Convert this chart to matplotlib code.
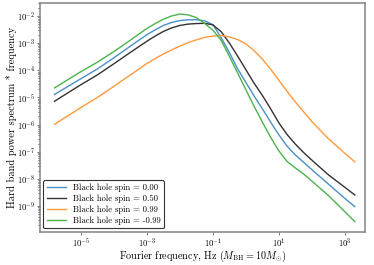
import numpy as np
import matplotlib
matplotlib.use("Agg")
import matplotlib.pyplot as plt

plt.rcParams["font.family"] = "serif"
plt.rcParams["font.serif"] = ["cmr10"]
plt.rcParams["mathtext.fontset"] = "cm"
plt.rcParams["axes.formatter.use_mathtext"] = True
plt.rcParams["axes.unicode_minus"] = False

# log10 of Fourier frequency (Hz) where curves were read
log_freq = [-5.8, -5.0, -4.5, -4.0, -3.5,
            -3.0, -2.75, -2.5, -2.25, -2.0, -1.75, -1.5, -1.25, -1.0, -0.75, -0.5, -0.25,
            0.0, 0.25, 0.5, 0.75, 1.0, 1.25, 1.5, 1.75, 2.0,
            2.5, 3.0, 3.3]

# log10 of power * frequency for each spin
log_pow_spin_000 = [-4.89, -4.31, -3.95, -3.54, -3.11,
                    -2.69, -2.51, -2.35, -2.24, -2.17, -2.14, -2.14, -2.18, -2.32, -2.80, -3.35, -3.95,
                    -4.45, -4.95, -5.42, -5.91, -6.38, -6.80, -7.12, -7.39, -7.66,
                    -8.19, -8.72, -9.02]
log_pow_spin_050 = [-5.14, -4.53, -4.17, -3.76, -3.34,
                    -2.93, -2.74, -2.57, -2.44, -2.35, -2.30, -2.28, -2.27, -2.33, -2.58, -3.00, -3.48,
                    -3.98, -4.48, -4.93, -5.42, -5.94, -6.37, -6.72, -7.03, -7.31,
                    -7.85, -8.31, -8.59]
log_pow_spin_099 = [-5.99, -5.37, -5.00, -4.59, -4.17,
                    -3.75, -3.57, -3.40, -3.25, -3.11, -2.98, -2.88, -2.79, -2.74, -2.72, -2.77, -2.87,
                    -3.03, -3.28, -3.59, -3.96, -4.37, -4.78, -5.17, -5.53, -5.89,
                    -6.52, -7.06, -7.37]
log_pow_spin_m099 = [-4.65, -4.05, -3.70, -3.31, -2.89,
                     -2.46, -2.28, -2.12, -2.00, -1.93, -1.96, -2.06, -2.28, -2.52, -2.90, -3.49, -4.10,
                     -4.72, -5.33, -5.91, -6.47, -6.97, -7.36, -7.60, -7.82, -8.08,
                     -8.61, -9.21, -9.57]

labels = ["Black hole spin = 0.00", "Black hole spin = 0.50",
          "Black hole spin = 0.99", "Black hole spin = -0.99"]
colors = ["#4a90c8", "#333333", "#ff9a3c", "#4cb34c"]

freq = 10.0 ** np.array(log_freq)
series = [log_pow_spin_000, log_pow_spin_050, log_pow_spin_099, log_pow_spin_m099]

fig = plt.figure(figsize=(3.74, 2.65), dpi=100)
ax = fig.add_axes([0.107, 0.125, 0.869, 0.864])

for vals, lab, col in zip(series, labels, colors):
    ax.loglog(freq, 10.0 ** np.array(vals), color=col, lw=1.0, label=lab)

ax.set_xlim(10 ** -6.24, 10 ** 3.61)
ax.set_ylim(10 ** -9.95, 10 ** -1.52)
ax.set_xticks([1e-5, 1e-3, 1e-1, 1e1, 1e3])
ax.xaxis.set_minor_locator(matplotlib.ticker.NullLocator())
ax.tick_params(labelsize=6.2, color="0.4", length=2.5, width=0.6, pad=1.0)
ax.tick_params(which="minor", length=1.5, width=0.5)

for sp in ax.spines.values():
    sp.set_color("0.55")
    sp.set_linewidth(1.2)

ax.set_xlabel(r"Fourier frequency, Hz ($M_{\rm BH} = 10M_{\odot}$)", fontsize=7.3)
ax.xaxis.set_label_coords(0.5, -0.075)
ax.set_ylabel("Hard band power spectrum * frequency", fontsize=7.5, labelpad=0)

leg = ax.legend(loc="lower left", fontsize=6.2, frameon=True, fancybox=True,
                borderaxespad=0.4, handlelength=2.2, labelspacing=0.3)
leg.get_frame().set_edgecolor("0.2")
leg.get_frame().set_linewidth(0.8)
leg.get_frame().set_alpha(1.0)

fig.savefig("out.png", dpi=100)
